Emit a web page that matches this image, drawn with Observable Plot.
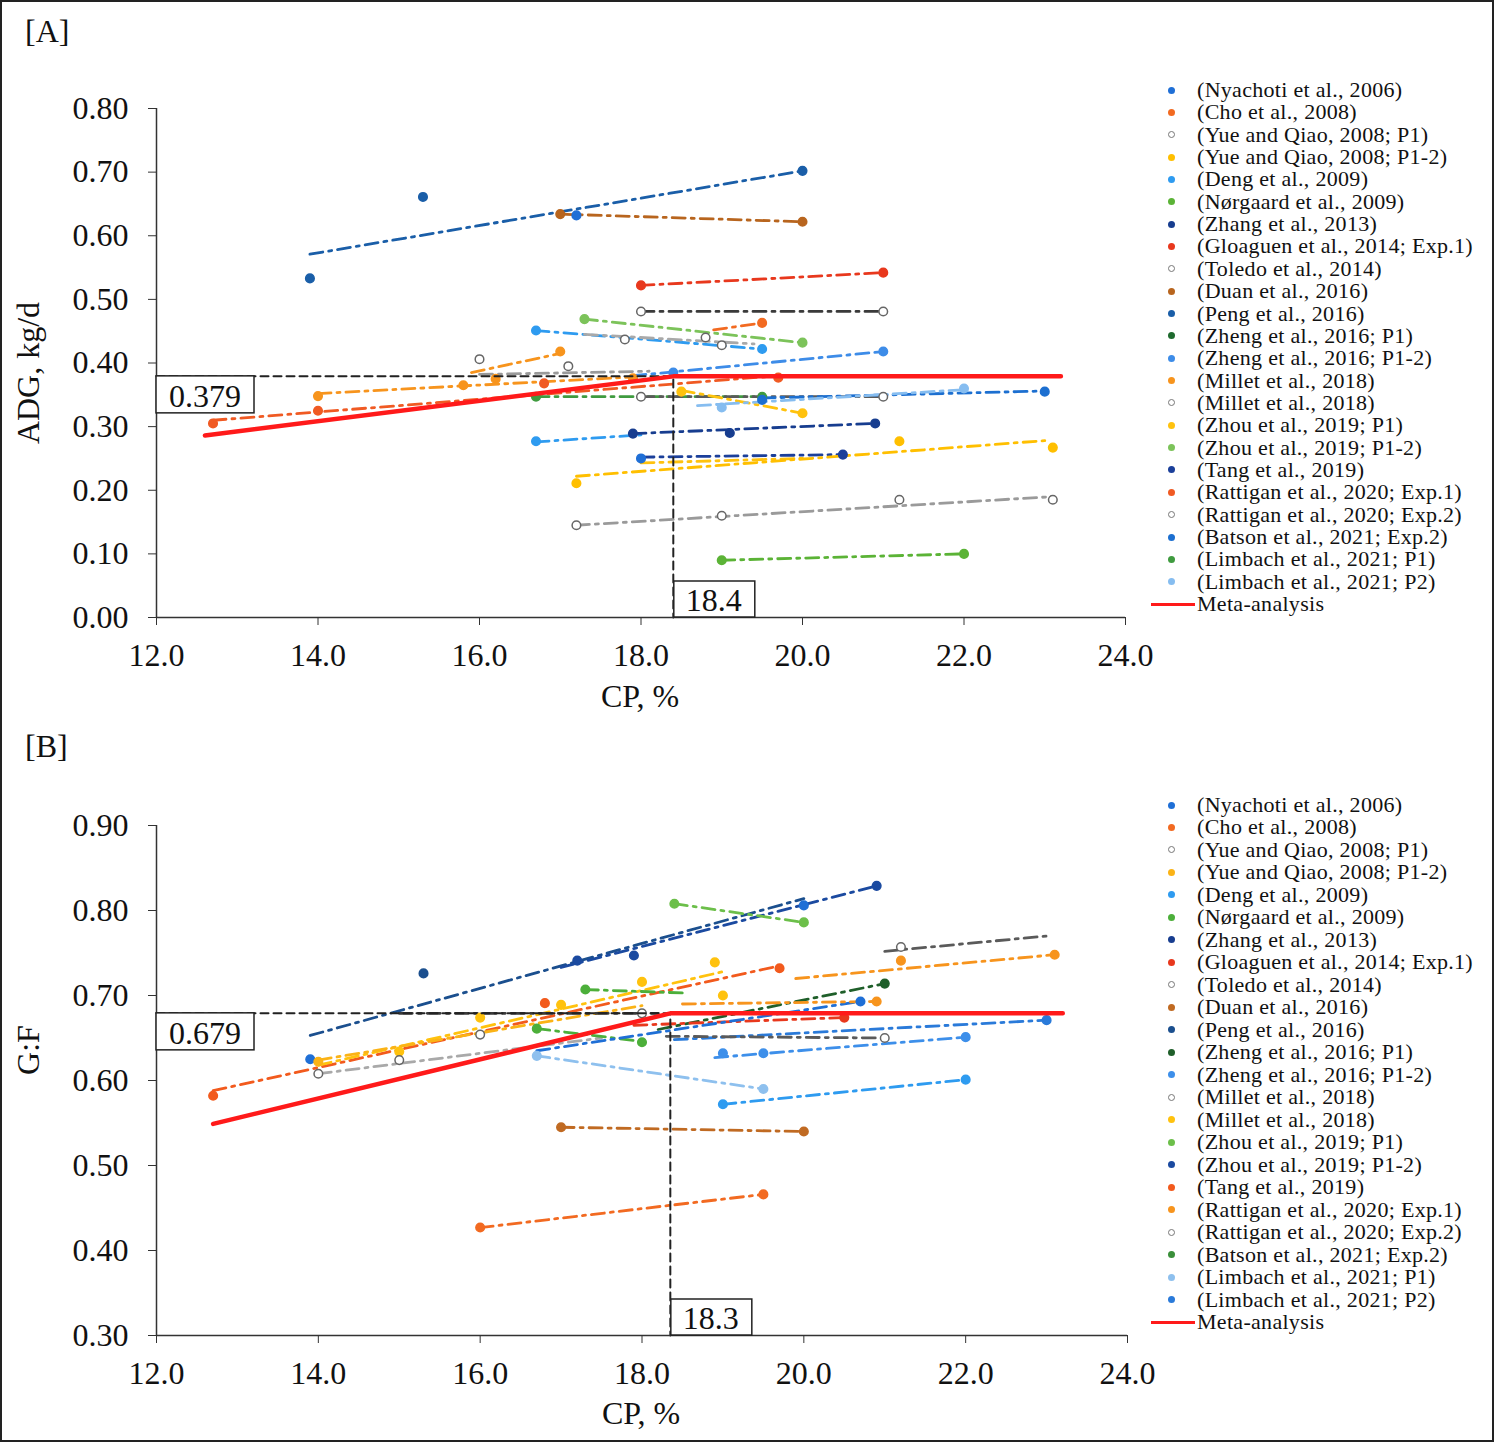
<!DOCTYPE html>
<html><head><meta charset="utf-8">
<script src="https://cdn.jsdelivr.net/npm/d3@7"></script>
<script src="https://cdn.jsdelivr.net/npm/@observablehq/plot@0.6"></script>
<style>
body{margin:0;background:#fff;}
#wrap{position:relative;width:1494px;height:1442px;background:#fff;overflow:hidden;font-family:'Liberation Serif','Times New Roman',serif;color:#111;}
.abs{position:absolute;white-space:nowrap;}
.plotbox{position:absolute;left:0;}
#frame{position:absolute;left:0;top:0;width:1494px;height:1442px;box-sizing:border-box;border:2px solid #222;pointer-events:none;}
.lg{position:absolute;height:24px;line-height:24px;font-size:22px;letter-spacing:0.3px;white-space:nowrap;}
.ld{position:absolute;width:7px;height:7px;border-radius:50%;box-sizing:border-box;}
</style></head><body>
<div id="wrap"><div id="frame"></div></div>
<script>
// ---------- data ----------
const studies = ["(Nyachoti et al., 2006)","(Cho et al., 2008)","(Yue and Qiao, 2008; P1)","(Yue and Qiao, 2008; P1-2)","(Deng et al., 2009)","(Nørgaard et al., 2009)","(Zhang et al., 2013)","(Gloaguen et al., 2014; Exp.1)","(Toledo et al., 2014)","(Duan et al., 2016)","(Peng et al., 2016)","(Zheng et al., 2016; P1)","(Zheng et al., 2016; P1-2)","(Millet et al., 2018)","(Millet et al., 2018)","(Zhou et al., 2019; P1)","(Zhou et al., 2019; P1-2)","(Tang et al., 2019)","(Rattigan et al., 2020; Exp.1)","(Rattigan et al., 2020; Exp.2)","(Batson et al., 2021; Exp.2)","(Limbach et al., 2021; P1)","(Limbach et al., 2021; P2)"];
const metaLabel = "Meta-analysis";

const colorsA = ["#1f6fd6","#f26a21","#9a9a9a","#ffbf00","#2e9bf0","#5bb336","#173d8f","#e8381d","#3a3a3a","#b8651e","#1a5ea8","#1e6a2e","#3d8ce8","#f7941d","#a9a9a9","#ffc20e","#7cc35a","#1b3f9a","#f05a23","#5a5a5a","#1c6fd0","#3f9b3f","#86bdf0"];
const hollowA = [2, 8, 14, 19];
const colorsB = ["#1f6fd6","#f26a21","#9a9a9a","#fbb316","#2e9bf0","#4caf3a","#173d8f","#e8381d","#3a3a3a","#c06a22","#1b4f8e","#1f5f2a","#3d8fea","#a9a9a9","#ffc20e","#6cbf4a","#1b4aa0","#f25a1d","#f7941d","#5a5a5a","#3a8f3a","#8ec0ee","#2a7ad9"];
const hollowB = [2, 8, 13, 19];

// [study, CP1, value1, CP2, value2]
const adgLines = [
  [10,13.9,0.571,20.0,0.702],[9,17.0,0.634,20.0,0.622],[7,18.0,0.522,21.0,0.542],
  [8,18.0,0.481,21.0,0.481],[16,17.3,0.469,20.0,0.432],[4,16.7,0.451,19.5,0.422],
  [14,17.3,0.445,19.4,0.430],[1,18.9,0.452,19.5,0.463],[12,17.9,0.380,21.0,0.418],
  [13,14.0,0.352,17.9,0.378],[13,15.9,0.385,17.0,0.415],[2,16.0,0.382,18.1,0.387],
  [18,12.7,0.310,19.7,0.380],[21,16.7,0.347,19.5,0.347],[19,18.0,0.347,21.0,0.347],
  [20,19.5,0.345,23.0,0.356],[15,18.5,0.357,20.0,0.321],[22,18.7,0.333,22.0,0.358],
  [4,16.7,0.276,18.0,0.287],[6,17.9,0.289,20.9,0.305],[17,18.0,0.252,20.5,0.256],
  [15,18.0,0.243,20.0,0.250],[3,17.2,0.222,23.0,0.278],[2,17.2,0.145,23.1,0.190],
  [5,19.0,0.090,22.0,0.100]
];
// [study, CP, value]
const adgPoints = [
  [10,13.9,0.533],[10,15.3,0.661],[10,20.0,0.702],[0,17.2,0.632],[9,17.0,0.634],[9,20.0,0.622],
  [7,18.0,0.522],[7,21.0,0.542],[8,18.0,0.481],[8,21.0,0.481],[16,17.3,0.469],[16,20.0,0.432],
  [4,16.7,0.451],[4,19.5,0.422],[14,18.8,0.440],[14,19.0,0.428],[14,17.8,0.437],[1,19.5,0.463],
  [12,18.4,0.385],[12,21.0,0.418],[13,14.0,0.348],[13,15.8,0.365],[13,16.2,0.375],[13,17.9,0.376],
  [13,17.0,0.418],[2,16.0,0.406],[2,17.1,0.395],[18,12.7,0.305],[18,14.0,0.325],[18,16.8,0.368],
  [18,19.7,0.377],[21,16.7,0.347],[21,19.5,0.347],[19,18.0,0.347],[19,21.0,0.347],[20,19.5,0.342],
  [20,23.0,0.355],[15,18.5,0.355],[15,20.0,0.321],[22,19.0,0.330],[22,22.0,0.360],[4,16.7,0.277],
  [6,17.9,0.289],[6,19.1,0.290],[6,20.9,0.305],[0,18.0,0.250],[17,20.5,0.256],[3,17.2,0.211],
  [3,21.2,0.277],[3,23.1,0.267],[2,17.2,0.145],[2,19.0,0.160],[2,21.2,0.185],[2,23.1,0.185],
  [5,19.0,0.090],[5,22.0,0.100]
];
const gfLines = [
  [10,13.9,0.653,20.0,0.814],[16,17.0,0.733,20.9,0.829],[15,18.4,0.808,20.0,0.786],
  [19,21.0,0.752,23.0,0.770],[18,19.9,0.720,23.1,0.748],[17,12.7,0.588,19.7,0.735],
  [14,14.0,0.618,19.0,0.728],[3,14.0,0.624,18.0,0.688],[13,14.0,0.608,17.5,0.650],
  [8,15.0,0.679,18.2,0.679],[5,16.7,0.661,18.0,0.646],[5,17.3,0.707,18.5,0.703],
  [11,18.2,0.660,21.0,0.714],[21,16.7,0.629,19.5,0.590],[4,19.0,0.572,22.0,0.601],
  [12,18.9,0.627,22.0,0.651],[22,18.4,0.648,23.0,0.671],[7,17.9,0.665,20.5,0.674],
  [0,16.7,0.635,20.7,0.693],[18,18.5,0.690,20.9,0.693],[19,18.3,0.652,21.0,0.650],
  [9,17.0,0.545,20.0,0.540],[1,16.0,0.427,19.5,0.466]
];
const gfPoints = [
  [0,13.9,0.625],[10,15.3,0.726],[0,20.0,0.806],[16,17.2,0.741],[16,17.9,0.747],[16,20.9,0.829],
  [15,18.4,0.808],[15,20.0,0.786],[19,21.2,0.757],[18,21.2,0.741],[18,23.1,0.748],[17,12.7,0.582],
  [17,16.8,0.691],[17,19.7,0.732],[14,15.0,0.634],[14,16.0,0.674],[14,17.0,0.689],[14,18.0,0.716],
  [14,18.9,0.739],[14,19.0,0.700],[3,14.0,0.622],[13,14.0,0.608],[13,15.0,0.624],[13,16.0,0.654],
  [8,18.0,0.679],[5,16.7,0.661],[5,18.0,0.645],[5,17.3,0.707],[11,21.0,0.714],[21,16.7,0.629],
  [21,19.5,0.590],[4,19.0,0.572],[4,22.0,0.601],[12,19.0,0.632],[12,19.5,0.632],[12,22.0,0.651],
  [22,23.0,0.671],[7,20.5,0.674],[0,20.7,0.693],[18,20.9,0.693],[19,21.0,0.650],[9,17.0,0.545],
  [9,20.0,0.540],[1,16.0,0.427],[1,19.5,0.466]
];
const metaA = [[12.6,0.286],[18.4,0.379],[23.2,0.379]];
const metaB = [[12.7,0.549],[18.35,0.679],[23.2,0.679]];
const breakA = {cp: 18.4, value: 0.379};
const breakB = {cp: 18.35, value: 0.679};
const xTicks = [12,14,16,18,20,22,24];
const yTicksA = [0,1,2,3,4,5,6,7,8].map(d => d/10);
const yTicksB = [3,4,5,6,7,8,9].map(d => d/10);

// ---------- drawing ----------
const wrap = document.getElementById("wrap");
const FONT = "'Liberation Serif','Times New Roman',serif";

function valueBox(xv, yv, label) {
  return (index, {x, y}) => {
    const g = d3.create("svg:g");
    const l = x(xv), t = y(yv);
    g.append("rect").attr("x", l).attr("y", t).attr("width", 98).attr("height", 37)
      .attr("fill", "white").attr("stroke", "#222").attr("stroke-width", 1.5);
    g.append("text").attr("x", l + 49).attr("y", t + 20).attr("text-anchor", "middle")
      .attr("dominant-baseline", "central").attr("font-size", 32).attr("fill", "#111").text(label);
    return g.node();
  };
}
function cpBox(xv, yv, label) {
  return (index, {x, y}) => {
    const g = d3.create("svg:g");
    const l = x(xv), b = y(yv);
    g.append("rect").attr("x", l + 1).attr("y", b - 36).attr("width", 81).attr("height", 36)
      .attr("fill", "white").attr("stroke", "#222").attr("stroke-width", 1.5);
    g.append("text").attr("x", l + 41).attr("y", b - 17).attr("text-anchor", "middle")
      .attr("dominant-baseline", "central").attr("font-size", 32).attr("fill", "#111").text(label);
    return g.node();
  };
}

function panel(o) {
  const lineData = o.lines.flatMap((l, i) => [
    {id: i, c: o.colors[l[0]], x: l[1], y: l[2]},
    {id: i, c: o.colors[l[0]], x: l[3], y: l[4]}
  ]);
  const pts = o.points.map(p => ({c: o.colors[p[0]], h: o.hollow.includes(p[0]), x: p[1], y: p[2]}));
  const y0 = o.yDomain[0];
  const svg = Plot.plot({
    width: o.width, height: o.height,
    marginLeft: 156, marginRight: 25, marginTop: o.mTop, marginBottom: o.mBottom,
    x: {domain: [12, 24]},
    y: {domain: o.yDomain},
    style: {fontFamily: FONT, fontSize: "32px", background: "transparent", color: "#111", overflow: "visible"},
    marks: [
      Plot.line(lineData, {x: "x", y: "y", z: "id", stroke: "c", strokeWidth: 2.8, strokeDasharray: "13,6,3,6"}),
      Plot.dot(pts, {x: "x", y: "y", r: 4.3, fill: d => d.h ? "white" : d.c, stroke: d => d.h ? "#666" : d.c, strokeWidth: 1.5}),
      Plot.line([[12, o.brk.value], [o.brk.cp, o.brk.value], [o.brk.cp, y0]], {stroke: "#222", strokeWidth: 2, strokeDasharray: "8,5"}),
      Plot.line(o.meta, {stroke: "#ff1a1a", strokeWidth: 4.5}),
      Plot.ruleX([12], {stroke: "#333", strokeWidth: 1.5}),
      Plot.ruleY([y0], {x1: 12, x2: 24, stroke: "#333", strokeWidth: 1.5}),
      Plot.axisY({ticks: o.yTicks, tickFormat: d3.format(".2f"), tickSize: 8, tickPadding: 20, label: null, stroke: "#333"}),
      Plot.axisX({ticks: xTicks, tickFormat: d3.format(".1f"), tickSize: 8, tickPadding: 18, label: null, stroke: "#333"}),
      valueBox(12, o.brk.value, o.valLabel),
      cpBox(o.brk.cp, y0, o.cpLabel)
    ]
  });
  const box = document.createElement("div");
  box.className = "plotbox";
  box.style.top = o.top + "px";
  box.appendChild(svg);
  wrap.insertBefore(box, document.getElementById("frame"));
}

function text(str, left, top, size, extra) {
  const d = document.createElement("div");
  d.className = "abs";
  d.textContent = str;
  d.style.left = left + "px"; d.style.top = top + "px";
  d.style.fontSize = size + "px"; d.style.lineHeight = "1";
  if (extra) Object.assign(d.style, extra);
  wrap.appendChild(d);
  return d;
}

function legend(top, step, colors, hollow) {
  studies.forEach((s, i) => {
    const cy = top + i * step;
    const dot = document.createElement("div");
    dot.className = "ld";
    dot.style.left = "1168px"; dot.style.top = (cy - 3.5) + "px";
    if (hollow.includes(i)) { dot.style.background = "#fff"; dot.style.border = "1.5px solid #777"; }
    else dot.style.background = colors[i];
    wrap.appendChild(dot);
    const t = document.createElement("div");
    t.className = "lg";
    t.style.left = "1197px"; t.style.top = (cy - 12) + "px";
    t.textContent = s;
    wrap.appendChild(t);
  });
  const cy = top + studies.length * step;
  const ln = document.createElement("div");
  ln.className = "abs";
  Object.assign(ln.style, {left: "1151px", top: (cy - 1.5) + "px", width: "44px", height: "3px", background: "#ff1a1a"});
  wrap.appendChild(ln);
  const t = document.createElement("div");
  t.className = "lg";
  t.style.left = "1197px"; t.style.top = (cy - 12) + "px";
  t.textContent = metaLabel;
  wrap.appendChild(t);
}

panel({top: 0, width: 1150, height: 720, mTop: 108, mBottom: 103, yDomain: [0, 0.8], yTicks: yTicksA,
  lines: adgLines, points: adgPoints, colors: colorsA, hollow: hollowA, meta: metaA, brk: breakA,
  valLabel: "0.379", cpLabel: "18.4"});
panel({top: 717, width: 1152, height: 725, mTop: 108, mBottom: 107, yDomain: [0.3, 0.9], yTicks: yTicksB,
  lines: gfLines, points: gfPoints, colors: colorsB, hollow: hollowB, meta: metaB, brk: breakB,
  valLabel: "0.679", cpLabel: "18.3"});

text("[A]", 25, 15, 32);
text("[B]", 25, 730, 32);
text("CP, %", 540, 680, 32, {width: "200px", textAlign: "center"});
text("CP, %", 541, 1397, 32, {width: "200px", textAlign: "center"});
text("ADG, kg/d", -72, 357, 32, {width: "200px", textAlign: "center", transform: "rotate(-90deg)", transformOrigin: "100px 16px"});
text("G:F", -72, 1034, 32, {width: "200px", textAlign: "center", transform: "rotate(-90deg)", transformOrigin: "100px 16px"});

legend(90, 22.35, colorsA, hollowA);
legend(805, 22.48, colorsB, hollowB);
</script>
</body></html>
